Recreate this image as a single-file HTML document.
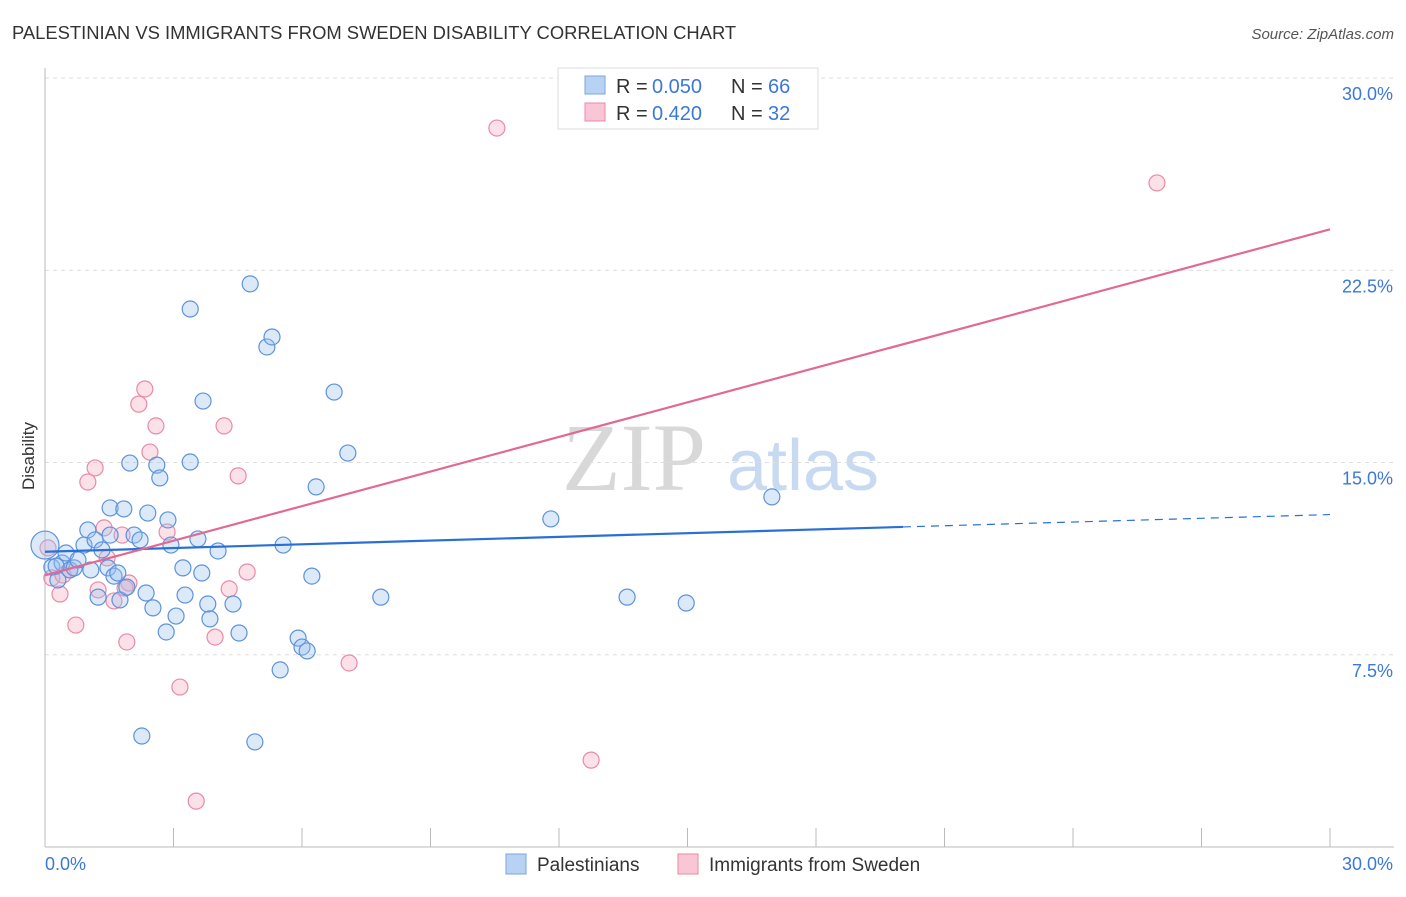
<!DOCTYPE html>
<html><head><meta charset="utf-8"><style>
body{margin:0;background:#fff;font-family:"Liberation Sans",sans-serif;}
</style></head><body>
<svg id="chart" width="1406" height="892" xmlns="http://www.w3.org/2000/svg" font-family="Liberation Sans, sans-serif">
<text x="12" y="39" font-size="18.4" fill="#333">PALESTINIAN VS IMMIGRANTS FROM SWEDEN DISABILITY CORRELATION CHART</text>
<text x="1394" y="39" font-size="15" fill="#555" text-anchor="end" font-style="italic">Source: ZipAtlas.com</text>
<g>
<text x="634" y="490" font-size="96" fill="#d8d8d8" font-family="Liberation Serif, serif" text-anchor="middle">ZIP</text>
<text x="803" y="490" font-size="72" fill="#c8daf2" text-anchor="middle">atlas</text>
</g>
<g id="grid"></g>
<g id="axes"></g>
<g id="series"></g>
<text transform="translate(34,456) rotate(-90)" font-size="17" fill="#333" text-anchor="middle">Disability</text>
<g>
<rect x="558" y="68" width="260" height="61" fill="#fff" stroke="#ddd"/>
<rect x="585" y="76" width="20" height="18" fill="#b8d2f4" stroke="#7aa6e2"/>
<text x="616" y="93" font-size="20" fill="#333">R =</text>
<text x="652" y="93" font-size="20" fill="#3b78d8">0.050</text>
<text x="731" y="93" font-size="20" fill="#333">N =</text>
<text x="768" y="93" font-size="20" fill="#3b78d8">66</text>
<rect x="585" y="103" width="20" height="18" fill="#f9c6d6" stroke="#e98aa8"/>
<text x="616" y="120" font-size="20" fill="#333">R =</text>
<text x="652" y="120" font-size="20" fill="#3b78d8">0.420</text>
<text x="731" y="120" font-size="20" fill="#333">N =</text>
<text x="768" y="120" font-size="20" fill="#3b78d8">32</text>
</g>
<g>
<rect x="506" y="854" width="20" height="20" fill="#b8d2f4" stroke="#7aa6e2"/>
<text x="537" y="871" font-size="19" fill="#333">Palestinians</text>
<rect x="678" y="854" width="20" height="20" fill="#f9c6d6" stroke="#e98aa8"/>
<text x="709" y="871" font-size="19" fill="#333">Immigrants from Sweden</text>
</g>
</svg>
<script>
const yTicks=[7.5,15,22.5,30];
const yTickLabels=["7.5%","15.0%","22.5%","30.0%"];
const xTicks=[0,3,6,9,12,15,18,21,24,27,30];
const blueX=[0,0.16,0.30,0.40,0.49,0.58,0.68,0.77,0.91,1.00,1.07,1.17,1.24,1.33,1.47,1.52,1.61,1.70,1.75,1.84,1.91,1.98,2.08,2.22,2.36,2.40,2.52,2.61,2.68,2.83,2.87,2.94,3.06,3.22,3.27,3.39,3.39,3.57,3.66,3.69,3.80,3.85,4.04,4.39,4.53,4.79,4.90,5.18,5.30,5.49,5.56,5.91,6.00,6.12,6.23,6.33,6.75,7.07,7.84,2.26,11.81,13.59,14.97,16.97,1.52,0.26];
const blueY=[11.78,10.92,10.42,11.08,11.47,10.81,10.89,11.20,11.78,12.37,10.81,11.98,9.75,11.59,10.89,13.23,10.57,10.69,9.64,13.19,10.14,14.98,12.17,11.98,9.91,13.03,9.33,14.90,14.40,8.39,12.76,11.78,9.01,10.89,9.83,20.99,15.02,12.02,10.69,17.40,9.48,8.90,11.55,9.48,8.35,21.97,4.10,19.51,19.90,6.91,11.78,8.15,7.80,7.65,10.57,14.05,17.75,15.37,9.75,4.33,12.80,9.75,9.52,13.66,12.17,10.96];
const pinkX=[10.55,25.96,2.33,2.19,2.59,4.18,2.45,1.17,1.00,4.51,1.38,1.80,2.85,1.45,0.16,0.35,1.24,1.96,1.61,4.72,4.30,0.72,1.91,3.97,3.15,7.10,12.75,3.53,0.07,0.58,0.42,1.87];
const pinkY=[28.05,25.91,17.87,17.28,16.43,16.43,15.41,14.79,14.24,14.48,12.45,12.17,12.29,11.28,10.50,9.87,10.03,10.30,9.60,10.73,10.07,8.66,8.00,8.19,6.24,7.18,3.39,1.79,11.67,10.81,10.61,10.1];
const blueTrend=[11.52,12.97];
const pinkTrend=[10.6,24.1];
const blueSolidEnd=20.03;
const NS="http://www.w3.org/2000/svg";
const sx=v=>45+v/30*1285;
const sy=v=>847-v*25.63;
function mk(tag,attrs,parent){const e=document.createElementNS(NS,tag);for(const k in attrs)e.setAttribute(k,attrs[k]);document.getElementById(parent).appendChild(e);return e;}
yTicks.forEach((t,i)=>{
  const g=mk('line',{x1:45,x2:1394,y1:sy(t),y2:sy(t),stroke:'#ddd','stroke-dasharray':'4,4'},'grid');
  
  
  const l=mk('text',{x:1393,y:sy(t)+22,'font-size':18,fill:'#3b78d8','text-anchor':'end'},'axes');
  l.textContent=yTickLabels[i];
  
  
});
const ax=mk('line',{x1:45,x2:1394,y1:847,y2:847,stroke:'#bbb'},'axes');


const ay=mk('line',{x1:45,x2:45,y1:68,y2:847,stroke:'#bbb'},'axes');


xTicks.forEach(t=>{
  const tk=mk('line',{x1:sx(t),x2:sx(t),y1:828,y2:847,stroke:'#bbb'},'axes');
  
  
});
const x0=mk('text',{x:45,y:870,'font-size':18,fill:'#3b78d8'},'axes');x0.textContent='0.0%';


const x1=mk('text',{x:1393,y:870,'font-size':18,fill:'#3b78d8','text-anchor':'end'},'axes');x1.textContent='30.0%';


function dot(x,y,r,fill,stroke,name){
  const c=mk('circle',{cx:sx(x),cy:sy(y),r:r,fill:fill,'fill-opacity':0.35,stroke:stroke,'stroke-width':1.2},'series');
  
  
}
pinkX.forEach((x,i)=>dot(x,pinkY[i],8,'#f5a9c1','#e98aa8','point-sweden'));
blueX.forEach((x,i)=>dot(x,blueY[i],i===0?14:8,'#9cc0ee','#5b93dc','point-palestinians'));
const bAt=v=>blueTrend[0]+(blueTrend[1]-blueTrend[0])*v/30;
const bl=mk('line',{x1:sx(0),y1:sy(bAt(0)),x2:sx(blueSolidEnd),y2:sy(bAt(blueSolidEnd)),stroke:'#2a6fd6','stroke-width':2.2},'series');


const bd=mk('line',{x1:sx(blueSolidEnd),y1:sy(bAt(blueSolidEnd)),x2:sx(30),y2:sy(bAt(30)),stroke:'#2a6fd6','stroke-width':1.2,'stroke-dasharray':'8,6'},'series');


const pl=mk('line',{x1:sx(0),y1:sy(pinkTrend[0]),x2:sx(30),y2:sy(pinkTrend[1]),stroke:'#e06a93','stroke-width':2.2},'series');


</script>
</body></html>
